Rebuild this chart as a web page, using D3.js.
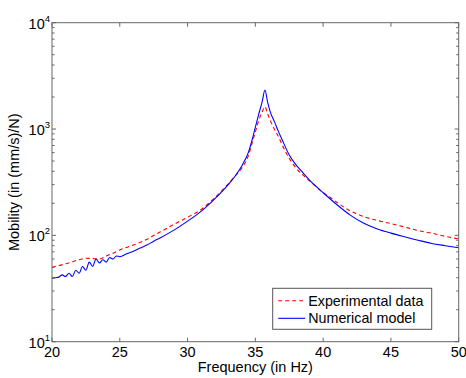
<!DOCTYPE html>
<html>
<head>
<meta charset="utf-8">
<script src="https://cdn.jsdelivr.net/npm/d3@7"></script>
<style>
  body { margin: 0; background: #fff; }
  text { font-family: "Liberation Sans", Arial, sans-serif; fill: #000; }
</style>
</head>
<body>
<div id="chart"></div>
<script>
// Numerical model (blue, solid)
const freqModel = [20, 20.25, 20.5, 20.75, 21, 21.25, 21.5, 21.75, 22, 22.25, 22.5, 22.75, 23, 23.25, 23.5, 23.75,
    24, 24.25, 24.5, 24.75, 25, 25.5, 26, 26.5, 27, 27.5, 28, 29, 30, 31, 32, 33, 33.5, 34, 34.5, 34.75, 35, 35.25, 35.5,
    35.71, 35.9, 36.1, 36.4, 36.7, 37, 37.5, 38, 38.5, 39, 40, 41, 42, 43, 44, 45, 46, 47, 48, 49, 50];
const mobModel = [39.5, 40, 40.5, 42.5, 41, 44, 41, 47, 44, 51, 47, 56, 51, 60, 55, 59,
    56, 62, 60, 64, 63, 67, 71, 76, 81, 88, 95, 112, 136, 168, 220, 300, 360, 450, 610, 780, 1040, 1380, 1800,
    2330, 1800, 1450, 1180, 950, 780, 570, 460, 390, 330, 252, 195, 155, 130, 115, 105, 97, 90, 84, 80, 76.5];

// Experimental data (red, dashed)
const freqExp = [20, 20.5, 21, 21.5, 22, 22.5, 23, 23.5, 24, 24.5, 25, 26, 27, 28, 29, 30, 31, 32, 33, 33.5,
    34, 34.5, 34.75, 35, 35.25, 35.5, 35.71, 35.9, 36.1, 36.4, 36.7, 37, 37.5, 38, 38.5, 39, 39.5, 40, 40.5, 41,
    42, 43, 44, 45, 46, 47, 48, 49, 50];
const mobExp = [50, 52, 54, 56.5, 59, 61, 60.5, 60, 64, 68, 73, 81, 92, 108, 127, 148, 175, 225, 305, 360,
    430, 570, 730, 940, 1200, 1450, 1620, 1400, 1200, 1000, 850, 700, 530, 430, 370, 325, 285, 252, 228, 205,
    170, 150, 138, 129, 120, 111, 105, 98, 92.5];

const xTicks = [20, 25, 30, 35, 40, 45, 50];
const yExps = [1, 2, 3, 4];
const legendLabels = ["Experimental data", "Numerical model"];

const W = 466, H = 378;
const margin = {top: 22.7, right: 7.3, bottom: 36.3, left: 52};
const width = W - margin.left - margin.right;
const height = H - margin.top - margin.bottom;

const svg = d3.select("#chart").append("svg")
    .attr("width", W)
    .attr("height", H);

const g = svg.append("g")
    .attr("transform", "translate(" + margin.left + "," + margin.top + ")");

const x = d3.scaleLinear().domain([20, 50]).range([0, width]);
const y = d3.scaleLog().domain([10, 10000]).range([height, 0]);

const axisColor = "#666";

// minor ticks on log axis
let minor = [];
for (let e = 1; e < 4; e++) {
    for (let k = 2; k <= 9; k++) minor.push(k * Math.pow(10, e));
}

// curves
const line = d3.line()
    .curve(d3.curveMonotoneX)
    .x(d => x(d[0]))
    .y(d => y(d[1]));

g.append("path")
    .datum(freqExp.map((f, i) => [f, mobExp[i]]))
    .attr("fill", "none")
    .attr("stroke", "#ff0000")
    .attr("stroke-width", 1.1)
    .attr("stroke-dasharray", "4,3")
    .attr("d", line);

g.append("path")
    .datum(freqModel.map((f, i) => [f, mobModel[i]]))
    .attr("fill", "none")
    .attr("stroke", "#0000ff")
    .attr("stroke-width", 1.1)
    .attr("d", line);

// box
g.append("rect")
    .attr("width", width)
    .attr("height", height)
    .attr("fill", "none")
    .attr("stroke", axisColor)
    .attr("stroke-width", 1);

// x ticks (bottom and top, inward)
const xt = g.append("g");
xTicks.forEach(function (t) {
    xt.append("line").attr("x1", x(t)).attr("x2", x(t)).attr("y1", height).attr("y2", height - 4)
        .attr("stroke", axisColor);
    xt.append("line").attr("x1", x(t)).attr("x2", x(t)).attr("y1", 0).attr("y2", 4)
        .attr("stroke", axisColor);
    xt.append("text")
        .attr("x", x(t))
        .attr("y", height + 15)
        .attr("text-anchor", "middle")
        .style("font-size", "14.5px")
        .text(t);
});

// y ticks (left and right, inward)
const yt = g.append("g");
yExps.forEach(function (e) {
    const v = Math.pow(10, e);
    yt.append("line").attr("x1", 0).attr("x2", 4).attr("y1", y(v)).attr("y2", y(v)).attr("stroke", axisColor);
    yt.append("line").attr("x1", width).attr("x2", width - 4).attr("y1", y(v)).attr("y2", y(v)).attr("stroke", axisColor);
    const lbl = yt.append("text")
        .attr("x", -2)
        .attr("y", y(v) + 6)
        .attr("text-anchor", "end")
        .style("font-size", "14.5px");
    lbl.append("tspan").text("10");
    lbl.append("tspan").attr("dy", -7).style("font-size", "9.5px").text(e);
});
minor.forEach(function (v) {
    yt.append("line").attr("x1", 0).attr("x2", 2.5).attr("y1", y(v)).attr("y2", y(v)).attr("stroke", axisColor);
    yt.append("line").attr("x1", width).attr("x2", width - 2.5).attr("y1", y(v)).attr("y2", y(v)).attr("stroke", axisColor);
});

// axis titles
svg.append("text")
    .attr("x", margin.left + width / 2)
    .attr("y", 372)
    .attr("text-anchor", "middle")
    .style("font-size", "14.5px")
    .text("Frequency (in Hz)");

svg.append("text")
    .attr("transform", "translate(19," + (margin.top + height / 2) + ") rotate(-90)")
    .attr("text-anchor", "middle")
    .style("font-size", "14.5px")
    .text("Mobility (in (mm/s)/N)");

// legend
const lg = svg.append("g").attr("transform", "translate(272.7,288.3)");
lg.append("rect")
    .attr("width", 159)
    .attr("height", 41)
    .attr("fill", "#fff")
    .attr("stroke", "#555");
const legendStyles = [
    {color: "#ff0000", dash: "4,3"},
    {color: "#0000ff", dash: null}
];
legendLabels.forEach(function (name, i) {
    const yy = 12.5 + i * 17.5;
    lg.append("line")
        .attr("x1", 5.5).attr("x2", 32.5)
        .attr("y1", yy).attr("y2", yy)
        .attr("stroke", legendStyles[i].color)
        .attr("stroke-width", 1.1)
        .attr("stroke-dasharray", legendStyles[i].dash);
    lg.append("text")
        .attr("x", 35.5)
        .attr("y", yy + 5)
        .style("font-size", "14.3px")
        .text(name);
});
</script>
</body>
</html>
